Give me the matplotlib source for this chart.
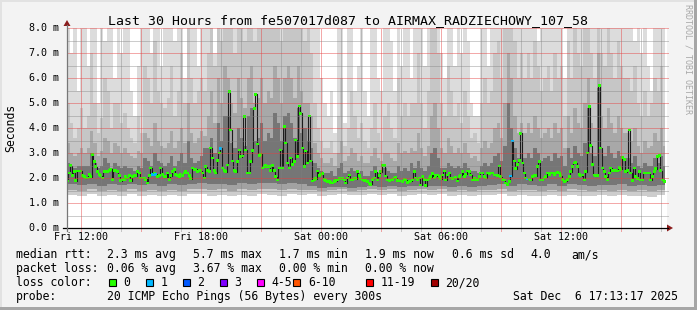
import matplotlib
matplotlib.use('Agg')
import matplotlib.pyplot as plt
from matplotlib.patches import Rectangle, Polygon
import numpy as np

plt.rcParams['font.family'] = 'DejaVu Sans Mono'

# ---- data (time in hours since Fri 00:00, rtt in ms) ----
t_start = 11 + 17 / 60.0      # first 5-min step
step_h = 5 / 60.0

median_ms = [
    1.88, 2.2, 2.5, 2.1, 2.25, 1.9, 2.28, 2.28, 2.28, 2.1,
    2.05, 2.0, 2.0, 2.15, 2.05, 2.95, 2.65, 2.45, 2.25, 2.15,
    2.1, 2.0, 2.25, 2.25, 2.25, 2.3, 2.35, 1.95, 2.3, 2.3,
    2.25, 2.1, 1.9, 1.95, 1.95, 2.05, 2.0, 2.1, 1.9, 2.05,
    2.1, 2.1, 2.25, 2.2, 2.0, 2.0, 2.0, 1.95, 1.8, 2.1,
    2.4, 2.15, 2.2, 2.15, 2.05, 2.1, 2.4, 2.15, 2.05, 2.05,
    2.2, 1.95, 2.1, 2.25, 2.35, 2.15, 2.1, 2.05, 2.15, 2.1,
    2.2, 2.25, 2.2, 2.1, 1.98, 2.4, 2.35, 2.35, 2.25, 2.3,
    2.3, 2.2, 2.0, 2.45, 2.3, 2.25, 3.2, 2.8, 2.3, 2.2,
    2.7, 3.0, 3.19, 2.4, 2.3, 2.25, 2.52, 5.45, 3.92, 2.68,
    2.3, 2.25, 2.65, 3.12, 2.85, 2.88, 4.45, 3.12, 2.2, 2.2,
    2.65, 3.1, 4.79, 5.35, 3.36, 2.9, 2.95, 2.4, 2.45, 2.5,
    2.45, 2.45, 2.3, 2.5, 2.3, 2.05, 1.92, 2.4, 3.12, 2.4,
    4.05, 3.4, 2.6, 2.4, 2.8, 2.55, 2.65, 3.52, 2.85, 4.88,
    4.59, 3.2, 2.45, 3.08, 2.6, 4.48, 2.68, 1.88, 1.95, 1.98,
    2.28, 2.1, 2.15, 2.18, 1.95, 1.9, 1.85, 1.88, 1.82, 1.8,
    1.85, 1.9, 1.92, 1.98, 2.0, 1.98, 1.92, 1.8, 2.0, 2.12,
    1.92, 1.95, 2.0, 1.98, 2.25, 2.1, 1.98, 1.92, 1.88, 1.92,
    1.85, 1.79, 1.75, 1.95, 2.0, 2.25, 1.92, 2.1, 2.25, 2.5,
    2.5, 2.08, 1.92, 1.9, 1.92, 1.95, 2.0, 2.02, 1.9, 1.88,
    1.88, 1.85, 1.95, 1.92, 1.82, 1.85, 1.88, 1.92, 2.25, 2.0,
    1.95, 2.0, 1.72, 2.05, 1.95, 1.7, 1.92, 1.98, 2.05, 2.18,
    2.0, 2.1, 2.12, 2.05, 1.98, 2.12, 2.28, 1.92, 2.12, 2.2,
    2.0, 1.98, 2.0, 2.02, 1.88, 2.05, 2.12, 2.25, 2.05, 2.15,
    2.28, 2.25, 2.12, 1.92, 1.98, 1.95, 1.95, 2.05, 2.2, 2.2,
    2.05, 2.0, 2.2, 2.18, 2.2, 2.2, 2.12, 2.12, 2.1, 2.48,
    2.05, 1.95, 1.92, 1.8, 1.75, 1.85, 2.08, 3.48, 2.68, 2.38,
    2.55, 2.7, 3.79, 2.6, 2.2, 2.0, 1.96, 1.96, 1.92, 2.05,
    2.12, 2.1, 2.45, 2.65, 1.92, 1.92, 2.0, 2.05, 2.2, 2.15,
    2.2, 2.2, 2.15, 2.2, 2.22, 2.2, 2.1, 1.95, 1.85, 1.88,
    1.95, 2.05, 2.25, 2.45, 2.6, 2.62, 2.45, 2.15, 2.1, 2.12,
    1.92, 2.25, 3.0, 4.85, 3.3, 2.55, 2.12, 2.1, 2.1, 5.7,
    3.2, 2.4, 2.25, 2.05, 1.95, 2.2, 2.4, 2.3, 2.3, 2.3,
    2.28, 2.42, 2.35, 2.82, 2.75, 2.25, 2.3, 3.92, 2.2, 1.9,
    2.4, 2.05, 1.98, 2.25, 1.92, 1.92, 2.2, 2.2, 2.2, 2.2,
    1.92, 2.05, 2.25, 2.38, 2.85, 2.9, 2.3, 1.92, 1.85,
]
loss_idx = [51, 53, 92, 266, 267, 276]
loss_cnt = [1, 1, 1, 1, 1, 1]

# upper smoke, 10-minute columns (one line per hour)
smoke_max = [
    9, 7.0, 9, 5.5, 9, 9,
    6.5, 9, 9, 5.0, 9, 7.5,
    9, 9, 6.0, 9, 7.0, 9,
    9, 5.5, 4.5, 6.5, 9, 9,
    9, 7.0, 9, 9, 6.5, 9,
    9, 9, 7.5, 9, 9, 6.0,
    9, 9, 9, 6.5, 9, 9,
    9, 9, 7.0, 9, 9, 9,
    9, 9, 9, 9, 9, 9,
    9, 9, 9, 9, 9, 9,
    9, 9, 9, 9, 9, 9,
    9, 9, 9, 9, 9, 9,
    9, 9, 9, 9, 6.0, 5.0,
    4.5, 5.5, 3.8, 9, 9, 4.2,
    9, 9, 5.5, 6.5, 9, 5.5,
    4.5, 9, 9, 6.0, 5.5, 9,
    9, 7.5, 5.5, 9, 6.5, 9,
    9, 6.0, 9, 9, 9, 6.5,
    9, 9, 9, 9, 7.0, 6.0,
    9, 9, 6.5, 9, 7.0, 9,
    7.5, 5.0, 4.5, 4.5, 9, 9,
    6.5, 9, 9, 9, 9, 9,
    9, 9, 9, 9, 9, 9,
    9, 9, 9, 7.5, 9, 9,
    9, 9, 9, 9, 9, 6.0,
    9, 9, 9, 9, 9, 9,
    9, 9, 9, 9, 9, 9,
    9, 9, 9, 9, 9, 9,
    9, 9, 7.5, 9, 7.0, 9,
    6.5, 5.5, 9, 9, 9, 9,
]
smoke_p90 = [
    5.0, 4.2, 3.6, 4.0, 4.8, 4.0,
    4.5, 7.0, 5.0, 3.8, 4.4, 6.0,
    5.5, 4.0, 5.0, 5.0, 4.2, 4.6,
    4.0, 3.6, 3.4, 4.5, 3.8, 6.5,
    6.0, 5.0, 7.5, 5.5, 5.0, 4.8,
    5.2, 6.5, 4.5, 5.5, 7.0, 5.0,
    8.5, 6.0, 5.0, 5.5, 6.0, 5.5,
    7.0, 8.5, 6.5, 9, 7.5, 9,
    9, 8.0, 7.0, 9, 8.0, 7.5,
    9, 9, 7.5, 8.0, 9, 8.0,
    9, 8.0, 9, 9, 7.5, 9,
    9, 9, 8.0, 9, 8.5, 7.5,
    8.0, 7.0, 5.0, 4.0, 3.5, 3.2,
    3.2, 3.5, 3.0, 4.5, 6.0, 3.3,
    4.0, 5.5, 4.5, 3.6, 4.2, 3.5,
    3.2, 4.0, 5.0, 3.8, 3.5, 4.5,
    5.0, 4.0, 3.6, 6.0, 4.5, 5.0,
    4.5, 5.0, 5.0, 7.0, 5.0, 4.0,
    5.5, 8.0, 9, 7.0, 5.0, 4.5,
    6.5, 5.5, 4.5, 5.0, 4.2, 5.5,
    4.5, 3.6, 3.8, 3.4, 5.0, 6.0,
    5.0, 5.5, 7.0, 7.5, 6.0, 8.5,
    9, 9, 7.5, 6.0, 7.0, 6.0,
    7.0, 6.0, 7.5, 6.5, 5.5, 6.0,
    6.5, 5.5, 7.0, 6.0, 6.5, 4.5,
    7.5, 6.0, 8.0, 7.0, 6.5, 8.5,
    9, 7.0, 6.0, 9, 7.0, 6.5,
    8.0, 7.0, 6.0, 7.5, 6.5, 6.0,
    6.0, 5.5, 6.5, 5.0, 4.5, 5.5,
    4.5, 5.0, 6.0, 5.5, 6.5, 5.0,
]
smoke_p75 = [
    3.4, 3.0, 2.9, 3.0, 3.2, 3.0,
    3.2, 3.9, 3.4, 2.9, 3.1, 3.6,
    3.5, 3.0, 3.4, 3.3, 3.0, 3.2,
    3.0, 2.9, 2.8, 3.1, 3.0, 3.8,
    3.6, 3.3, 4.2, 3.5, 3.3, 3.2,
    3.4, 3.9, 3.2, 3.5, 4.0, 3.4,
    5.0, 3.8, 3.4, 3.6, 3.9, 3.7,
    4.5, 5.5, 4.2, 6.0, 5.0, 6.5,
    6.0, 5.0, 4.6, 6.0, 5.2, 4.8,
    6.0, 6.5, 5.0, 5.2, 6.0, 5.0,
    5.5, 5.2, 6.5, 6.0, 5.0, 6.0,
    6.5, 6.0, 5.2, 6.5, 5.5, 5.0,
    5.0, 4.5, 3.4, 3.0, 2.8, 2.6,
    2.6, 2.8, 2.5, 3.0, 3.5, 2.7,
    2.9, 3.2, 3.0, 2.7, 2.9, 2.6,
    2.6, 2.9, 3.2, 2.8, 2.7, 3.0,
    3.0, 2.8, 2.7, 3.4, 3.0, 3.1,
    3.0, 3.2, 3.1, 3.8, 3.2, 2.9,
    3.3, 4.5, 5.0, 4.0, 3.2, 3.0,
    3.6, 3.3, 3.0, 3.2, 3.0, 3.4,
    3.0, 2.8, 2.9, 2.7, 3.2, 3.5,
    3.2, 3.4, 4.0, 4.2, 3.6, 5.0,
    7.0, 6.0, 4.5, 3.8, 4.2, 3.8,
    4.2, 3.8, 4.5, 4.0, 3.6, 3.8,
    4.0, 3.6, 4.2, 3.8, 4.0, 3.2,
    4.5, 3.8, 4.8, 4.2, 4.0, 5.0,
    6.0, 4.2, 4.0, 7.0, 4.5, 4.0,
    4.8, 4.2, 3.8, 4.5, 4.0, 3.8,
    3.8, 3.5, 4.0, 3.3, 3.0, 3.5,
    3.2, 3.3, 3.8, 3.5, 4.0, 3.3,
]
smoke_p60 = [
    2.6, 2.5, 2.4, 2.5, 2.5, 2.5,
    2.5, 3.0, 2.6, 2.4, 2.5, 2.8,
    2.6, 2.4, 2.6, 2.5, 2.4, 2.5,
    2.4, 2.4, 2.3, 2.5, 2.4, 2.8,
    2.7, 2.5, 3.0, 2.7, 2.6, 2.5,
    2.6, 2.9, 2.5, 2.7, 3.0, 2.6,
    3.5, 2.8, 2.6, 2.7, 2.9, 3.2,
    3.2, 3.6, 3.0, 4.2, 3.5, 4.5,
    4.5, 3.4, 3.2, 4.0, 3.6, 3.3,
    4.5, 4.8, 3.5, 3.6, 4.2, 3.5,
    3.8, 3.6, 4.6, 4.2, 3.5, 4.5,
    4.6, 4.2, 3.6, 4.8, 3.8, 4.0,
    3.5, 3.2, 2.6, 2.4, 2.3, 2.2,
    2.2, 2.3, 2.1, 2.4, 2.6, 2.2,
    2.3, 2.4, 2.3, 2.2, 2.3, 2.1,
    2.1, 2.3, 2.5, 2.2, 2.2, 2.4,
    2.3, 2.2, 2.2, 2.5, 2.3, 2.4,
    2.3, 2.6, 2.4, 2.7, 2.4, 2.3,
    2.5, 3.0, 3.2, 2.8, 2.4, 2.4,
    2.6, 2.5, 2.4, 2.5, 2.4, 2.6,
    2.4, 2.3, 2.3, 2.2, 2.5, 2.6,
    2.5, 2.6, 2.9, 3.0, 2.7, 3.3,
    5.0, 4.0, 3.2, 2.8, 3.0, 2.8,
    3.0, 2.8, 3.2, 3.0, 2.7, 2.8,
    2.9, 2.7, 3.0, 2.8, 2.9, 2.5,
    3.2, 2.8, 3.3, 3.0, 2.9, 3.4,
    4.8, 3.0, 2.9, 5.6, 3.2, 2.9,
    3.3, 3.0, 2.8, 3.1, 2.9, 2.8,
    2.8, 2.6, 2.9, 2.5, 2.4, 2.6,
    2.5, 2.5, 2.8, 2.6, 2.9, 2.5,
]
# lower smoke, 30-minute columns
smoke_p25 = [
    1.75, 1.72, 1.78, 1.70, 1.76, 1.72, 1.78, 1.72, 1.75, 1.70, 1.77, 1.73,
    1.78, 1.82, 1.75, 1.78, 1.72, 1.80, 1.76, 1.82, 1.80, 1.76, 1.81, 1.78,
    1.68, 1.62, 1.65, 1.66, 1.62, 1.66, 1.70, 1.66, 1.68, 1.64, 1.67, 1.70,
    1.68, 1.70, 1.66, 1.69, 1.64, 1.68, 1.72, 1.76, 1.70, 1.75, 1.72, 1.68,
    1.75, 1.70, 1.77, 1.72, 1.69, 1.74, 1.72, 1.76, 1.70, 1.73, 1.68, 1.74,
]
smoke_p10 = [
    1.52, 1.50, 1.55, 1.48, 1.53, 1.50, 1.56, 1.50, 1.52, 1.47, 1.54, 1.50,
    1.55, 1.58, 1.52, 1.55, 1.50, 1.56, 1.52, 1.57, 1.55, 1.52, 1.56, 1.53,
    1.54, 1.50, 1.52, 1.55, 1.50, 1.53, 1.56, 1.52, 1.55, 1.50, 1.53, 1.56,
    1.52, 1.55, 1.50, 1.54, 1.48, 1.53, 1.51, 1.55, 1.50, 1.54, 1.51, 1.48,
    1.53, 1.49, 1.55, 1.51, 1.48, 1.52, 1.50, 1.54, 1.49, 1.51, 1.47, 1.52,
]
smoke_min = [
    1.32, 1.30, 1.35, 1.28, 1.33, 1.30, 1.36, 1.30, 1.32, 1.27, 1.34, 1.30,
    1.35, 1.38, 1.30, 1.33, 1.29, 1.34, 1.30, 1.36, 1.33, 1.30, 1.35, 1.32,
    1.36, 1.30, 1.33, 1.37, 1.31, 1.34, 1.38, 1.33, 1.36, 1.30, 1.34, 1.37,
    1.32, 1.35, 1.30, 1.34, 1.28, 1.33, 1.31, 1.35, 1.29, 1.33, 1.30, 1.27,
    1.32, 1.28, 1.34, 1.30, 1.27, 1.31, 1.29, 1.33, 1.28, 1.30, 1.26, 1.31,
]

tick_pos = [12, 18, 24, 30, 36]
tick_labels = ['Fri 12:00', 'Fri 18:00', 'Sat 00:00', 'Sat 06:00', 'Sat 12:00']

loss_names = ['0', '1', '2', '3', '4-5', '6-10', '11-19', '20/20']
loss_colors = ['#26ff00', '#00b8ff', '#0059ff', '#7e00ff', '#ff00ff', '#ff5500', '#ff0000', '#a10000']

# ---- figure ----
W, H = 697, 310
fig = plt.figure(figsize=(W / 100, H / 100), dpi=100)
fig.patch.set_facecolor('#f3f3f3')

ax = fig.add_axes([67 / W, (H - 228) / H, 600 / W, 200 / H])
ax.set_facecolor('white')
ax.set_xlim(11.3, 41.3)
ax.set_ylim(0, 8)
for s in ax.spines.values():
    s.set_visible(False)
ax.set_xticks([])
ax.set_yticks([])

t_end = t_start + len(median_ms) * step_h

def smoke(values, res_h, color):
    x = t_start + np.arange(len(values)) * res_h
    w = np.minimum(res_h, t_end - x)
    ax.bar(x, values, width=w, align='edge', color=color, linewidth=0,
           antialiased=False, zorder=1)

smoke(smoke_max, 1 / 6, '#dcdcdc')
smoke(smoke_p90, 1 / 6, '#c6c6c6')
smoke(smoke_p75, 1 / 6, '#a8a8a8')
smoke(smoke_p60, 1 / 6, '#767676')
smoke(smoke_p25, 0.5, '#a2a2a2')
smoke(smoke_p10, 0.5, '#cdcdcd')
smoke(smoke_min, 0.5, 'white')

tm = t_start + (np.arange(len(median_ms)) + 0.5) * step_h
ax.plot(tm, median_ms, drawstyle='steps-mid', color='#1c1c1c', lw=0.8, zorder=2)

def loss_color(n):
    if n <= 3:
        return loss_colors[n]
    if n <= 5:
        return loss_colors[4]
    if n <= 10:
        return loss_colors[5]
    if n <= 19:
        return loss_colors[6]
    return loss_colors[7]

loss = np.zeros(len(median_ms), dtype=int)
loss[loss_idx] = loss_cnt
cols = [loss_color(n) for n in loss]
ax.scatter(tm, median_ms, s=4.5, marker='s', c=cols, linewidths=0, zorder=3)

# grid on top, rrdtool style (1px dotted)
minor_c = (0.5, 0.5, 0.5, 0.4)
major_c = (0.9, 0.25, 0.25, 0.45)
for h in range(12, 42):
    c = major_c if h % 3 == 0 else minor_c
    ax.plot([h, h], [-0.12, 8], color=c, lw=0.72, ls=(0, (1, 1)),
            zorder=5, clip_on=False, antialiased=False)
for v in np.arange(0.5, 8.01, 0.5):
    c = major_c if abs(v - round(v)) < 1e-6 else minor_c
    ax.plot([11.3, 41.4], [v, v], color=c, lw=0.72, ls=(0, (1, 1)),
            zorder=5, clip_on=False, antialiased=False)

for v in range(0, 9):
    ax.text(11.3 - 0.42, v, '%d.0 m' % v, ha='right', va='center',
            fontsize=7.2, color='black', clip_on=False)
for p, lab in zip(tick_pos, tick_labels):
    ax.text(p, -0.38, lab, ha='center', va='center', fontsize=7.2,
            color='black', clip_on=False)

# ---- decorations in pixel coordinates ----
deco = fig.add_axes([0, 0, 1, 1], zorder=10)
deco.set_xlim(0, W)
deco.set_ylim(H, 0)
deco.axis('off')
deco.patch.set_alpha(0)

deco.add_patch(Rectangle((0, 0), W, 2, color='#e2e2e2', lw=0))
deco.add_patch(Rectangle((0, 0), 2, H, color='#e2e2e2', lw=0))
deco.add_patch(Rectangle((0, H - 3), W, 3, color='#a6a6a6', lw=0))
deco.add_patch(Rectangle((W - 3, 0), 3, H, color='#a6a6a6', lw=0))

deco.plot([63, 668], [228, 228], color='black', lw=0.9)
deco.plot([67, 67], [231, 25], color='#777777', lw=0.9)
deco.add_patch(Polygon([(667, 224.5), (673, 228), (667, 231.5)], color='#8b1c1c', lw=0))
deco.add_patch(Polygon([(63.5, 26), (67, 20), (70.5, 26)], color='#8b1c1c', lw=0))

def tx(x, y, s, **kw):
    kw.setdefault('fontsize', 8.3)
    deco.text(x, y, s, va='baseline', color='black', **kw)

tx(W / 2, 24, 'Last 30 Hours from fe507017d087 to AIRMAX_RADZIECHOWY_107_58',
   ha='center', fontsize=9.5)
deco.text(11, 128, 'Seconds', rotation=90, ha='center', va='center',
          fontsize=8.3, color='black')
deco.text(688, 4, 'RRDTOOL / TOBI OETIKER', rotation=270, ha='center', va='top',
          fontsize=6.0, color='#a8a8a8')

rtt_items = ['2.3 ms avg', '5.7 ms max', '1.7 ms min', '1.9 ms now', '0.6 ms sd', '4.0']
loss_items = ['0.06 % avg', '3.67 % max', '0.00 % min', '0.00 % now']
item_x = [107.3, 193.3, 279.3, 365, 451.7, 530]

tx(16, 258, 'median rtt:')
for x, s in zip(item_x, rtt_items):
    tx(x, 258, s)
tx(571.7, 258, 'am/s')
tx(16, 272, 'packet loss:')
for x, s in zip(item_x, loss_items):
    tx(x, 272, s)
tx(16, 286, 'loss color:')
box_x = [109, 145.7, 182.7, 219.7, 256.7, 293.3, 365.7, 430.7]
for x, name, c in zip(box_x, loss_names, loss_colors):
    deco.add_patch(Rectangle((x, 279), 7, 7, facecolor=c, edgecolor='black', lw=0.8))
    tx(x + 14.5, 286, name)
tx(16, 300, 'probe:')
tx(107.3, 300, '20 ICMP Echo Pings (56 Bytes) every 300s')
tx(513.3, 300, 'Sat Dec  6 17:13:17 2025')

fig.savefig('out.png', dpi=100, facecolor=fig.get_facecolor())
